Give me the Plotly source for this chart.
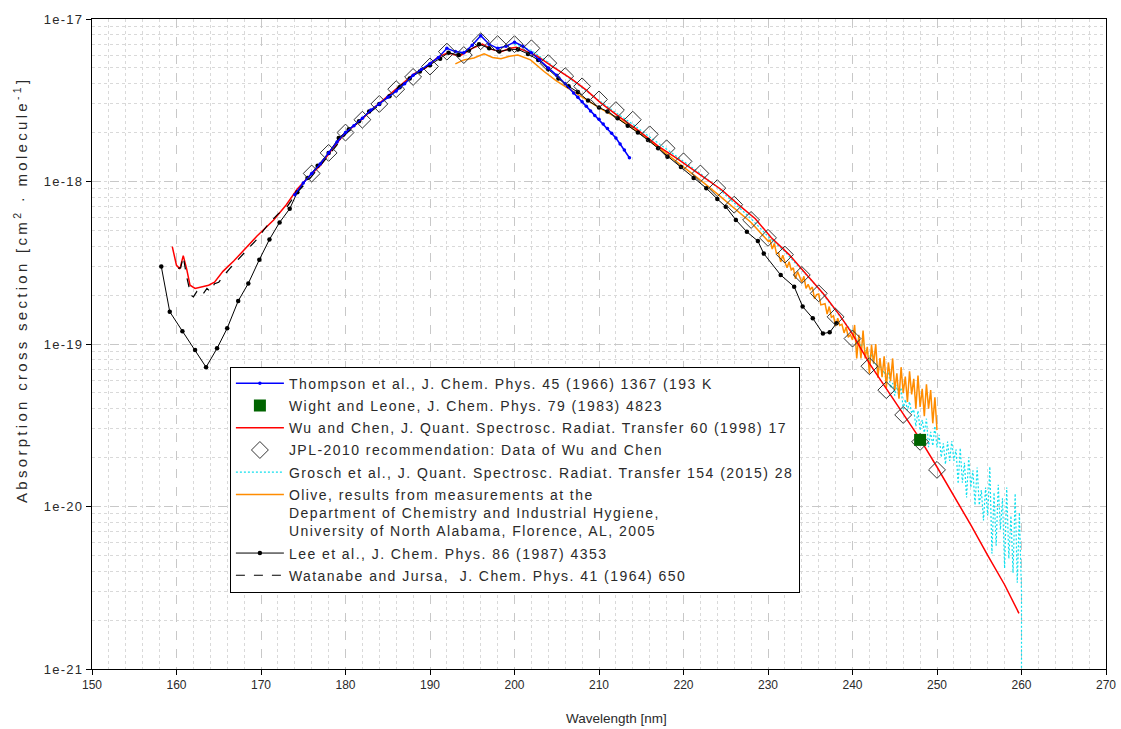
import plotly.graph_objects as go

# ---------------- data ----------------
# Thompson et al. (blue)
thompson_wl = [174.0, 175.0, 176.0, 177.0, 178.0, 179.0, 180.0, 181.0, 182.0, 183.0, 184.0, 185.0,
               186.0, 187.0, 188.0, 189.0, 190.0, 191.0, 192.0, 193.0, 194.0, 195.0, 196.0, 197.0,
               198.0, 199.0, 200.0, 201.0, 202.0, 203.0, 204.0, 205.0, 206.0, 207.0, 207.5, 208.0,
               208.5, 209.0, 209.5, 210.0, 210.5, 211.0, 211.5, 212.0, 212.5, 213.0, 213.6]
thompson_xs = [8.3e-19, 9.8e-19, 1.12e-18, 1.28e-18, 1.5e-18, 1.75e-18, 2.0e-18, 2.2e-18, 2.45e-18,
               2.75e-18, 3.0e-18, 3.3e-18, 3.6e-18, 4.0e-18, 4.5e-18, 4.9e-18, 5.3e-18, 5.8e-18,
               6.6e-18, 6.3e-18, 6.2e-18, 6.9e-18, 7.9e-18, 7.0e-18, 6.6e-18, 6.8e-18, 7.2e-18,
               6.8e-18, 6.2e-18, 5.6e-18, 5.0e-18, 4.5e-18, 4.0e-18, 3.5e-18, 3.3e-18, 3.1e-18,
               2.9e-18, 2.72e-18, 2.55e-18, 2.42e-18, 2.26e-18, 2.12e-18, 1.98e-18, 1.85e-18,
               1.7e-18, 1.56e-18, 1.4e-18]

# Wight and Leone (green square)
wight_wl = [248.0]
wight_xs = [2.57e-20]

# Wu and Chen (red)
wu_wl = [159.5, 160.0, 160.4, 160.8, 161.2, 161.6, 162.2, 163.0, 163.8, 164.5, 165.5, 166.8, 168.0,
         169.5, 171.5, 173.0, 174.3, 175.5, 177.0, 178.5, 180.0, 181.5, 183.4, 185.0, 186.5, 188.1,
         189.5, 190.9, 192.1, 193.5, 195.0, 196.2, 197.3, 198.4, 199.5, 200.2, 201.5, 202.7, 204.5,
         206.7, 208.5, 210.2, 212.4, 214.6, 217.0, 219.3, 222.0, 224.5, 226.5, 228.5, 230.4, 232.5,
         234.5, 236.5, 238.5, 240.0, 242.0, 244.0, 246.0, 248.0, 250.0, 252.0, 254.0, 256.0, 258.0,
         259.7]
wu_xs = [3.97e-19, 3.05e-19, 2.9e-19, 3.5e-19, 2.9e-19, 2.3e-19, 2.2e-19, 2.25e-19, 2.3e-19, 2.4e-19,
         2.8e-19, 3.25e-19, 3.8e-19, 4.6e-19, 5.8e-19, 7.2e-19, 9.0e-19, 1.05e-18, 1.25e-18, 1.6e-18,
         2.0e-18, 2.3e-18, 2.85e-18, 3.35e-18, 3.9e-18, 4.6e-18, 5.0e-18, 5.8e-18, 6.2e-18, 5.9e-18,
         6.6e-18, 7.0e-18, 6.5e-18, 6.3e-18, 6.6e-18, 6.7e-18, 6.3e-18, 5.9e-18, 5.1e-18, 4.3e-18,
         3.65e-18, 3.05e-18, 2.5e-18, 2.07e-18, 1.65e-18, 1.38e-18, 1.1e-18, 8.9e-19, 7.2e-19, 5.9e-19,
         4.5e-19, 3.55e-19, 2.7e-19, 2.05e-19, 1.5e-19, 1.15e-19, 7.6e-20, 5.3e-20, 3.75e-20, 2.6e-20,
         1.75e-20, 1.17e-20, 7.7e-21, 5.0e-21, 3.3e-21, 2.2e-21]

# JPL-2010 recommendation (open diamonds)
jpl_wl = [176, 178, 180, 182, 184, 186, 188, 190, 192, 194, 196, 198, 200, 202, 204, 206, 208, 210,
          212, 214, 216, 218, 220, 222, 224, 226, 228, 230, 232, 234, 236, 238, 240, 242, 244, 246,
          248, 250]
jpl_xs = [1.12e-18, 1.5e-18, 2.0e-18, 2.4e-18, 3.0e-18, 3.7e-18, 4.4e-18, 5.1e-18, 6.3e-18, 6.0e-18,
          7.3e-18, 7.0e-18, 7.0e-18, 6.6e-18, 5.35e-18, 4.45e-18, 3.85e-18, 3.2e-18, 2.75e-18,
          2.4e-18, 1.95e-18, 1.6e-18, 1.33e-18, 1.12e-18, 9.1e-19, 7.2e-19, 5.8e-19, 4.5e-19,
          3.55e-19, 2.66e-19, 2.05e-19, 1.47e-19, 1.08e-19, 7.3e-20, 5.2e-20, 3.66e-20, 2.5e-20,
          1.68e-20]

# Grosch et al. (cyan dotted)
grosch_wl = [200, 202, 204, 206, 208, 210, 212, 214, 216, 218, 220, 222, 224, 226, 228, 230, 232, 234,
             236, 238, 240,
             240.25, 240.5, 240.75, 241.0, 241.25, 241.5, 241.75, 242.0, 242.25, 242.5, 242.75, 243.0,
             243.25, 243.5, 243.75, 244.0, 244.25, 244.5, 244.75, 245.0, 245.25, 245.5, 245.75, 246.0,
             246.25, 246.5, 246.75, 247.0, 247.25, 247.5, 247.75, 248.0, 248.25, 248.5, 248.75, 249.0,
             249.25, 249.5, 249.75, 250.0, 250.25, 250.5, 250.75, 251.0, 251.25, 251.5, 251.75, 252.0,
             252.25, 252.5, 252.75, 253.0, 253.25, 253.5, 253.75, 254.0, 254.25, 254.5, 254.75, 255.0,
             255.25, 255.5, 255.75, 256.0, 256.25, 256.5, 256.75, 257.0, 257.25, 257.5, 257.75, 258.0,
             258.25, 258.5, 258.75, 259.0, 259.25, 259.5, 259.75, 260.0, 260.0]
grosch_xs = [7.0e-18, 6.4e-18, 5.4e-18, 4.5e-18, 3.8e-18, 3.15e-18, 2.65e-18, 2.25e-18, 1.88e-18,
             1.58e-18, 1.33e-18, 1.12e-18, 9.2e-19, 7.4e-19, 5.9e-19, 4.6e-19, 3.7e-19, 2.85e-19,
             2.2e-19, 1.6e-19, 1.18e-19,
             1.193e-19, 1.007e-19, 1.07e-19, 9.55e-20, 1.043e-19, 9.06e-20, 9.19e-20, 7.76e-20,
             8.74e-20, 7.61e-20, 7.68e-20, 6.75e-20, 7.6e-20, 6.61e-20, 6.86e-20, 5.92e-20,
             6.96e-20, 5.36e-20, 5.75e-20, 4.81e-20, 5.6e-20, 4.69e-20, 5.39e-20, 3.98e-20,
             4.56e-20, 3.91e-20, 4.42e-20, 3.74e-20, 3.95e-20, 3.11e-20, 3.88e-20, 2.94e-20,
             3.41e-20, 2.85e-20, 3.47e-20, 2.32e-20, 2.88e-20, 2.36e-20, 3.12e-20, 2.31e-20,
             2.76e-20, 2.01e-20, 2.45e-20, 1.82e-20, 2.51e-20, 1.91e-20, 2.53e-20, 1.91e-20,
             2.25e-20, 1.38e-20, 2.29e-20, 1.40e-20, 1.86e-20, 1.135e-20, 2.01e-20, 1.31e-20,
             1.67e-20, 1.02e-20, 1.74e-20, 1.02e-20, 1.26e-20, 8.2e-21, 1.31e-20, 8.8e-21,
             1.76e-20, 5.13e-21, 1.22e-20, 5.73e-21, 1.36e-20, 7.2e-21, 1.125e-20, 4.17e-21,
             1.31e-20, 4.78e-21, 8.77e-21, 3.9e-21, 1.2e-20, 3.39e-21, 9.17e-21, 2.95e-21, 5.0e-22]

# Olive (orange)
olive_wl = [193.0, 194.0, 195.2, 196.4, 197.4, 198.4, 199.4, 200.4, 201.9, 203.5, 205.0, 207.5, 210.0,
            212.5, 215.0, 217.5, 219.7, 222.0, 224.0, 226.0, 228.0, 230.0,
            230.25, 230.5, 230.75, 231.0, 231.25, 231.5, 231.75, 232.0, 232.25, 232.5, 232.75, 233.0,
            233.25, 233.5, 233.75, 234.0, 234.25, 234.5, 234.75, 235.0, 235.25, 235.5, 235.75, 236.0,
            236.25, 236.5, 236.75, 237.0, 237.25, 237.5, 237.75, 238.0, 238.25, 238.5, 238.75, 239.0,
            239.25, 239.5, 239.75, 240.0, 240.25, 240.5, 240.75, 241.0, 241.25, 241.5, 241.75, 242.0,
            242.25, 242.5, 242.75, 243.0, 243.25, 243.5, 243.75, 244.0, 244.25, 244.5, 244.75, 245.0,
            245.25, 245.5, 245.75, 246.0, 246.25, 246.5, 246.75, 247.0, 247.25, 247.5, 247.75, 248.0,
            248.25, 248.5, 248.75, 249.0, 249.25, 249.5, 249.75, 250.0]
olive_xs = [5.3e-18, 5.6e-18, 5.75e-18, 6.1e-18, 5.8e-18, 5.7e-18, 5.9e-18, 6.0e-18, 5.6e-18, 4.75e-18,
            4.15e-18, 3.45e-18, 2.85e-18, 2.4e-18, 1.95e-18, 1.55e-18, 1.27e-18, 1.02e-18, 8.4e-19,
            6.9e-19, 5.6e-19, 4.3e-19,
            4.36e-19, 3.84e-19, 4.16e-19, 3.6e-19, 3.64e-19, 3.2e-19, 3.52e-19, 3.2e-19, 2.95e-19,
            3.21e-19, 2.86e-19, 2.94e-19, 2.52e-19, 2.79e-19, 2.61e-19, 2.4e-19, 2.61e-19, 2.2e-19,
            2.33e-19, 2.16e-19, 2.24e-19, 1.9e-19, 2.01e-19, 2.03e-19, 1.74e-19, 1.76e-19, 1.77e-19,
            1.53e-19, 1.7e-19, 1.46e-19, 1.49e-19, 1.29e-19, 1.44e-19, 1.3e-19, 1.32e-19, 1.17e-19,
            1.27e-19, 1.1e-19, 1.14e-19, 1.06e-19,
            1.31e-19, 8.16e-20, 1.14e-19, 8.16e-20, 1.21e-19, 8.15e-20, 9.6e-20, 6.6e-20, 9.9e-20,
            7.6e-20, 1.0e-19, 6.2e-20, 8.2e-20, 6.25e-20, 8.4e-20, 5.36e-20, 7.7e-20, 5.9e-20,
            8.15e-20, 5.2e-20, 6.6e-20, 4.6e-20, 7.2e-20, 5.0e-20, 6.3e-20, 4.4e-20, 6.8e-20, 4.9e-20,
            6.1e-20, 4.0e-20, 6.4e-20, 4.1e-20, 5.3e-20, 3.6e-20, 5.65e-20, 4.0e-20, 5.2e-20,
            3.25e-20, 4.7e-20, 2.95e-20]

# Lee et al. (black with dots)
lee_wl = [158.2, 159.2, 160.7, 162.2, 163.5, 164.8, 166.0, 167.3, 168.5, 169.8, 171.0, 172.2, 173.4,
          174.3, 175.5, 176.7, 178.0, 179.2, 180.4, 181.6, 182.8, 184.0, 185.2, 186.4, 187.6, 188.8,
          190.0, 191.2, 192.2, 193.4, 194.6, 195.8, 197.0, 198.2, 199.4, 200.4, 201.6, 202.8, 204.0,
          205.2, 206.4, 207.5, 208.7, 210.0, 211.0, 212.2, 213.4, 214.6, 215.8, 217.0, 218.1, 219.7,
          221.2, 222.7, 224.0, 225.0, 226.2, 227.5, 228.8, 229.5, 231.5, 233.1, 234.1, 235.3, 236.5,
          237.3, 238.1]
lee_xs = [3.0e-19, 1.58e-19, 1.2e-19, 9.2e-20, 7.2e-20, 9.4e-20, 1.25e-19, 1.84e-19, 2.36e-19, 3.3e-19,
          4.4e-19, 5.6e-19, 6.8e-19, 8.6e-19, 1.05e-18, 1.25e-18, 1.5e-18, 1.85e-18, 2.1e-18, 2.35e-18,
          2.7e-18, 3.0e-18, 3.35e-18, 3.8e-18, 4.3e-18, 4.75e-18, 5.2e-18, 5.7e-18, 6.2e-18, 6.0e-18,
          6.4e-18, 7.0e-18, 6.6e-18, 6.3e-18, 6.5e-18, 6.5e-18, 6.1e-18, 5.6e-18, 4.9e-18, 4.3e-18,
          3.85e-18, 3.55e-18, 3.15e-18, 2.85e-18, 2.7e-18, 2.45e-18, 2.2e-18, 2.0e-18, 1.8e-18,
          1.6e-18, 1.42e-18, 1.23e-18, 1.05e-18, 9.1e-19, 7.8e-19, 7.0e-19, 5.8e-19, 4.9e-19, 4.3e-19,
          3.6e-19, 2.66e-19, 2.25e-19, 1.7e-19, 1.44e-19, 1.16e-19, 1.18e-19, 1.34e-19]

# Watanabe and Jursa (black dashed)
wat_wl = [160.2, 160.5, 160.8, 161.2, 161.7, 162.0, 162.4, 162.8, 163.2, 163.6, 164.0, 164.5, 165.0,
          165.5, 166.4, 167.5, 168.5, 169.5, 170.9, 172.0, 173.1, 174.2, 175.5, 177.0, 178.5, 180.0,
          182.0, 184.0, 186.0, 188.0, 190.0]
wat_xs = [2.92e-19, 2.95e-19, 3.45e-19, 2.6e-19, 2.0e-19, 1.95e-19, 2.1e-19, 1.98e-19, 2.05e-19,
          2.2e-19, 2.1e-19, 2.35e-19, 2.4e-19, 2.6e-19, 2.95e-19, 3.4e-19, 3.9e-19, 4.4e-19, 5.5e-19,
          6.3e-19, 7.0e-19, 8.5e-19, 1.0e-18, 1.25e-18, 1.55e-18, 1.95e-18, 2.45e-18, 2.95e-18,
          3.7e-18, 4.5e-18, 5.3e-18]

y_tickvals = [1e-21, 1e-20, 1e-19, 1e-18, 1e-17]
y_ticktext = ["1e-21", "1e-20", "1e-19", "1e-18", "1e-17"]

names = {
    "thompson": "Thompson et al., J. Chem. Phys. 45 (1966) 1367 (193 K",
    "wight": "Wight and Leone, J. Chem. Phys. 79 (1983) 4823",
    "wu": "Wu and Chen, J. Quant. Spectrosc. Radiat. Transfer 60 (1998) 17",
    "jpl": "JPL-2010 recommendation: Data of Wu and Chen",
    "grosch": "Grosch et al., J. Quant. Spectrosc. Radiat. Transfer 154 (2015) 28",
    "olive": "Olive, results from measurements at the<br>Department of Chemistry and Industrial Hygiene,<br>University of North Alabama, Florence, AL, 2005",
    "lee": "Lee et al., J. Chem. Phys. 86 (1987) 4353",
    "wat": "Watanabe and Jursa,  J. Chem. Phys. 41 (1964) 650",
}
x_title = "Wavelength [nm]"
y_title = "Absorption cross section [cm<sup>2</sup> · molecule<sup>-1</sup>]"

FONT = "Liberation Sans"
TXT = "#2a2a2a"

# ---------------- figure ----------------
fig = go.Figure()

fig.add_trace(go.Scatter(x=grosch_wl, y=grosch_xs, mode="lines", name=names["grosch"],
                         line=dict(color="#10E0EE", width=1.2, dash="2px,2px"), legendrank=5, legendgroup="g5"))
fig.add_trace(go.Scatter(x=olive_wl, y=olive_xs, mode="lines", name=names["olive"],
                         line=dict(color="#FF8C00", width=1.5), legendrank=6, legendgroup="g6"))
fig.add_trace(go.Scatter(x=wu_wl, y=wu_xs, mode="lines", name=names["wu"],
                         line=dict(color="#FF0000", width=1.5), legendrank=3, legendgroup="g3"))
fig.add_trace(go.Scatter(x=wat_wl, y=wat_xs, mode="lines", name=names["wat"],
                         line=dict(color="#000000", width=1.2, dash="dash"), legendrank=8, legendgroup="g8"))
fig.add_trace(go.Scatter(x=lee_wl, y=lee_xs, mode="lines+markers", name=names["lee"],
                         line=dict(color="#000000", width=1), marker=dict(size=4.5, color="#000000"),
                         legendrank=7, legendgroup="g7"))
fig.add_trace(go.Scatter(x=thompson_wl, y=thompson_xs, mode="lines+markers", name=names["thompson"],
                         line=dict(color="#0000FF", width=1.5), marker=dict(size=3.5, color="#0000FF"),
                         legendrank=1, legendgroup="g1"))
fig.add_trace(go.Scatter(x=jpl_wl, y=jpl_xs, mode="markers", name=names["jpl"],
                         marker=dict(symbol="diamond-open", size=13, color="#333333", line=dict(width=1)),
                         legendrank=4, legendgroup="g4"))
fig.add_trace(go.Scatter(x=wight_wl, y=wight_xs, mode="markers", name=names["wight"],
                         marker=dict(symbol="square", size=12, color="#006400"),
                         legendrank=2, legendgroup="g2"))

grid_major = "#c8c8c8"
grid_minor = "#d9d9d9"

fig.update_xaxes(
    range=[150, 270], dtick=10, tick0=150,
    showline=True, linecolor="#000000", linewidth=1, mirror=True,
    ticks="outside", ticklen=5, tickcolor="#000000",
    showgrid=True, gridcolor=grid_major, griddash="dash", gridwidth=1,
    minor=dict(dtick=2, showgrid=True, gridcolor=grid_minor, griddash="dot", ticks=""),
    zeroline=False, automargin=False,
    tickfont=dict(family=FONT, size=12, color=TXT),
)
fig.update_yaxes(
    type="log", range=[-21, -17],
    tickvals=y_tickvals, ticktext=y_ticktext,
    showline=True, linecolor="#000000", linewidth=1, mirror=True,
    ticks="outside", ticklen=5, tickcolor="#000000",
    showgrid=True, gridcolor=grid_major, griddash="dash", gridwidth=1,
    minor=dict(dtick="D1", showgrid=True, gridcolor=grid_minor, griddash="dot", ticks=""),
    zeroline=False, automargin=False,
    tickfont=dict(family=FONT, size=13, color=TXT),
)

fig.update_layout(
    width=1121, height=729,
    margin=dict(l=92, r=15, t=19, b=60, autoexpand=False),
    paper_bgcolor="white", plot_bgcolor="white",
    showlegend=True,
    legend=dict(
        x=0.136, y=0.465, xanchor="left", yanchor="top",
        bgcolor="white", bordercolor="#000000", borderwidth=1,
        font=dict(family=FONT, size=14, color=TXT),
        traceorder="grouped", tracegroupgap=1, valign="top", itemwidth=48,
    ),
    annotations=[
        dict(text=y_title, xref="paper", yref="paper", x=-0.071, y=0.583,
             xanchor="center", yanchor="middle", textangle=-90, showarrow=False,
             font=dict(family=FONT, size=15, color=TXT)),
        dict(text=x_title, xref="paper", yref="paper", x=0.517, y=-0.0754,
             xanchor="center", yanchor="middle", showarrow=False,
             font=dict(family=FONT, size=13.5, color=TXT)),
    ],
)

post_js = """
try {
  var gd = document.getElementById('{plot_id}');
  var st = document.createElement('style');
  st.textContent = 'body{margin:0 !important;} .legendtext{letter-spacing:1.45px;} ' +
                   '.annotation[data-index="0"] .annotation-text{letter-spacing:3.3px;} ' +
                   '.ytick text{letter-spacing:1.3px;} .modebar-container{display:none !important;}';
  document.head.appendChild(st);
  var lay = JSON.parse(JSON.stringify(gd.layout));
  lay.legend.font.size += 0.01;
  lay.yaxis.tickfont.size += 0.01;
  lay.annotations[0].font.size += 0.01;
  var dat = gd.data;
  Plotly.purge(gd);
  return Plotly.newPlot(gd, dat, lay, {displayModeBar: false});
} catch (e) { console.log(e); }
"""

fig.write_html("out.html", post_script=post_js, config={"displayModeBar": False})
